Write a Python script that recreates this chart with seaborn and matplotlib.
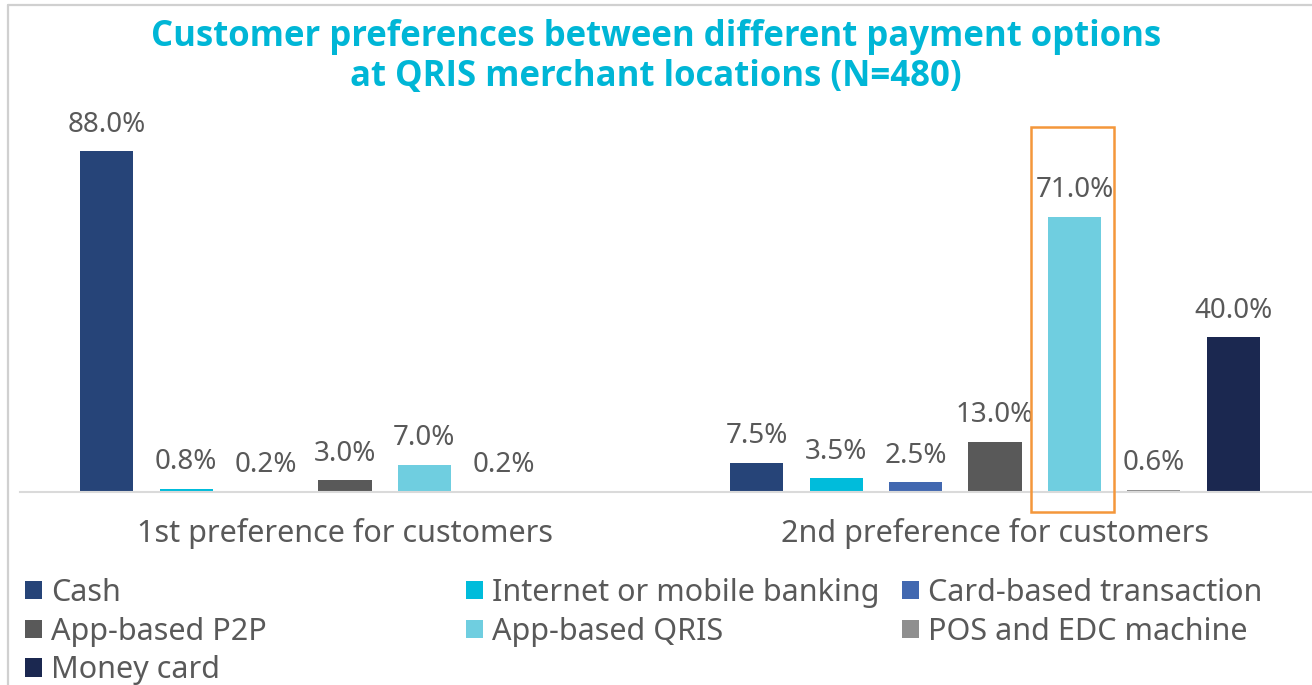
import matplotlib
matplotlib.use("Agg")
import matplotlib.pyplot as plt
import seaborn as sns
import pandas as pd
import numpy as np
from matplotlib.patches import Rectangle
from matplotlib.lines import Line2D

# ---- data ----
groups = ["1st preference for customers", "2nd preference for customers"]
options = ["Cash", "Internet or mobile banking", "Card-based transaction",
           "App-based P2P", "App-based QRIS", "POS and EDC machine", "Money card"]
first_pref = [88.0, 0.8, 0.2, 3.0, 7.0, 0.2, np.nan]
second_pref = [7.5, 3.5, 2.5, 13.0, 71.0, 0.6, 40.0]
colors = ["#264478", "#00BCDB", "#4268B0", "#595959", "#6FCEE0", "#8F8F8F", "#1B2850"]
title = "Customer preferences between different payment options\nat QRIS merchant locations (N=480)"

rows = []
for g, vals in zip(groups, [first_pref, second_pref]):
    for o, v in zip(options, vals):
        rows.append({"group": g, "option": o, "value": v})
df = pd.DataFrame(rows)

sns.set_theme(style="white")
plt.rcParams["font.family"] = ["Noto Sans", "DejaVu Sans"]
text_color = "#595959"

W, H = 1312, 685
fig = plt.figure(figsize=(W / 100, H / 100), dpi=100)
ax = fig.add_axes([20 / W, 193 / H, 1300 / W, 387.5 / H])

sns.barplot(data=df, x="group", y="value", hue="option", hue_order=options,
            order=groups, palette=colors, width=0.855, gap=0.33, saturation=1,
            errorbar=None, linewidth=0, ax=ax)

ax.set_ylim(0, 100)
ax.set_xlim(-0.5, 1.5)
for s in ["top", "right", "left"]:
    ax.spines[s].set_visible(False)
ax.spines["bottom"].set_color("#DADADA")
ax.spines["bottom"].set_linewidth(1.5)
ax.set_yticks([])
ax.set_xlabel("")
ax.set_ylabel("")
ax.tick_params(axis="x", length=0, pad=19, labelsize=22, labelcolor=text_color)

for cont in ax.containers:
    ax.bar_label(cont, fmt="%.1f%%", padding=9, fontsize=20, color=text_color)

# highlight box around the QRIS bar in the 2nd preference group
qris_idx = options.index("App-based QRIS")
bar = ax.containers[qris_idx].patches[1]
x0 = bar.get_x() - 0.026
x1 = bar.get_x() + bar.get_width() + 0.020
y0 = -5.2
y1 = bar.get_height() + 23.2
ax.add_patch(Rectangle((x0, y0), x1 - x0, y1 - y0, fill=False,
                       edgecolor="#F4973B", linewidth=1.8, clip_on=False, zorder=5))

# legends (Excel-like equal column grid)
leg = ax.get_legend()
handles = leg.legend_handles
labels = [t.get_text() for t in leg.get_texts()]
leg.remove()
cols = [[0, 3, 6], [1, 4], [2, 5]]
col_x = [25, 466, 902]
for cidx, xpos in zip(cols, col_x):
    fig.legend([handles[i] for i in cidx], [labels[i] for i in cidx],
               loc="upper left", bbox_to_anchor=(xpos / W, 1 - 578 / H),
               frameon=False, fontsize=22, labelcolor=text_color,
               handlelength=0.55, handleheight=0.55, handletextpad=0.3,
               labelspacing=0.28, borderaxespad=0, borderpad=0)

fig.text(0.5, 1 - 57 / H, title, ha="center", va="center", fontsize=25,
         fontweight="bold", color="#00B6D6", linespacing=1.15,
         family=["Open Sans", "Roboto", "DejaVu Sans"])

# outer frame (light grey)
fig.add_artist(Line2D([7.5 / W, 7.5 / W], [0, 1 - 4.5 / H], color="#D0D0D0", lw=1.6))
fig.add_artist(Line2D([7.5 / W, 1], [1 - 4.5 / H, 1 - 4.5 / H], color="#D0D0D0", lw=1.6))

fig.savefig("out.png", dpi=100)
